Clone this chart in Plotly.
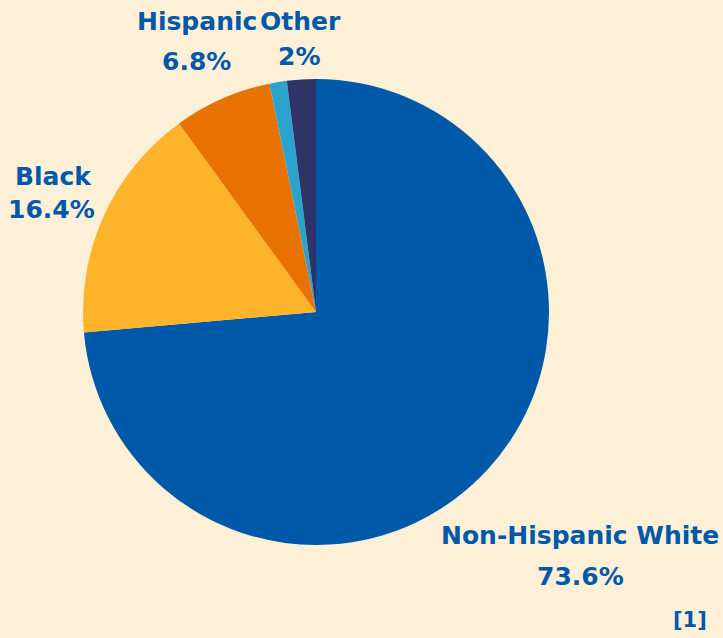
import plotly.graph_objects as go

labels = ["Non-Hispanic White", "Black", "Hispanic", "Asian", "Other"]
values = [73.6, 16.4, 6.8, 1.2, 2.0]
value_text = ["73.6%", "16.4%", "6.8%", "", "2%"]
colors = ["#0058a9", "#fdb42b", "#e87200", "#2ba3cc", "#2f3468"]
shown = [True, True, True, False, True]
footnote = "[1]"

W, H = 723, 638
fig = go.Figure(go.Pie(
    labels=labels, values=values, sort=False, direction="clockwise", rotation=0,
    marker=dict(colors=colors, line=dict(width=0)),
    textinfo="none", hoverinfo="label+value", showlegend=False,
    domain=dict(x=[83 / W, 549 / W], y=[1 - 545 / H, 1 - 79 / H]),
))

# label positions in pixels (name center, value center)
label_pos = {
    "Non-Hispanic White": ((580, 535), (580, 576)),
    "Black": ((53, 176), (52, 209)),
    "Hispanic": ((197, 22), (196, 62)),
    "Other": ((300, 22), (299, 57)),
}
font = dict(family="DejaVu Sans", size=25, color="#0058a9")
ann = []
for lab, vt, s in zip(labels, value_text, shown):
    if not s:
        continue
    (nx, ny), (vx, vy) = label_pos[lab]
    ann.append(dict(text=f"<b>{lab}</b>", x=nx / W, y=1 - ny / H, xref="paper", yref="paper",
                    showarrow=False, xanchor="center", yanchor="middle", font=font))
    ann.append(dict(text=f"<b>{vt}</b>", x=vx / W, y=1 - vy / H, xref="paper", yref="paper",
                    showarrow=False, xanchor="center", yanchor="middle", font=font))
ann.append(dict(text=f"<b>{footnote}</b>", x=690 / W, y=1 - 620 / H, xref="paper", yref="paper",
                showarrow=False, xanchor="center", yanchor="middle",
                font=dict(family="DejaVu Sans", size=21, color="#0058a9")))

fig.update_layout(
    width=W, height=H, margin=dict(l=0, r=0, t=0, b=0),
    paper_bgcolor="#fef0d7", plot_bgcolor="#fef0d7",
    annotations=ann,
)
fig.write_html("out.html", config={"displayModeBar": False},
               post_script="document.body.style.margin='0';document.body.style.background='#fef0d7';")
